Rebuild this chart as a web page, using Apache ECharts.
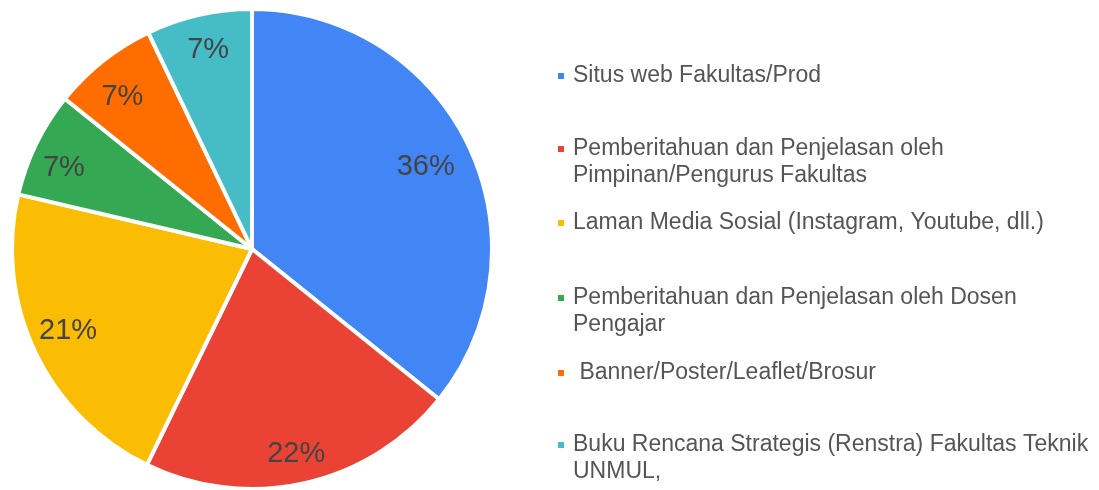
<!DOCTYPE html>
<html>
<head>
<meta charset="utf-8">
<script src="https://cdn.jsdelivr.net/npm/echarts@6/dist/echarts.min.js"></script>
<style>
  html, body { margin: 0; padding: 0; background: #fff; }
  #chart { width: 1099px; height: 490px; }
</style>
</head>
<body>
<div id="chart"></div>
<script>
const categories = [
  'Situs web Fakultas/Prod',
  'Pemberitahuan dan Penjelasan oleh\nPimpinan/Pengurus Fakultas',
  'Laman Media Sosial (Instagram, Youtube, dll.)',
  'Pemberitahuan dan Penjelasan oleh Dosen\nPengajar',
  ' Banner/Poster/Leaflet/Brosur',
  'Buku Rencana Strategis (Renstra) Fakultas Teknik\nUNMUL,'
];
// slice shares (percent)
const values = [35.7, 21.4, 21.4, 7.1, 7.1, 7.1];
// percentage labels as printed on the slices
const sliceLabels = ['36%', '22%', '21%', '7%', '7%', '7%'];
const colors = ['#4285F4', '#EA4335', '#FBBC04', '#34A853', '#FF6D01', '#46BDC6'];
const legendLineCenters = [76, 149, 223, 298, 373, 445];

const FONT = '"Liberation Sans", Arial, sans-serif';
const LINE_H = 27;
const LEGEND_FS = 23;
const cx = 252, cy = 249;

const pieData = categories.map((n, i) => ({ name: n, value: values[i], itemStyle: { color: colors[i] } }));

const legends = categories.map((n, i) => ({
  data: [n],
  left: 558,
  top: legendLineCenters[i] - LINE_H / 2,
  orient: 'vertical',
  padding: 0,
  icon: 'rect',
  itemWidth: 6,
  itemHeight: 6,
  itemStyle: { borderWidth: 0 },
  selectedMode: false,
  formatter: (name) => name.split('\n')[0],
  textStyle: { fontSize: LEGEND_FS, fontFamily: FONT, color: '#555', lineHeight: LINE_H, padding: [0, 0, 0, 4] }
}));

const graphics = [];
categories.forEach((n, i) => {
  const parts = n.split('\n');
  for (let k = 1; k < parts.length; k++) {
    graphics.push({
      type: 'text',
      x: 573,
      y: legendLineCenters[i] + k * LINE_H,
      style: { text: parts[k], fontSize: LEGEND_FS, fontFamily: FONT, fill: '#555', verticalAlign: 'middle' }
    });
  }
});

const labelOffsets = [[-13, 7], [-1, 3], [3, -7], [-2, 10], [-1, 10], [2, 3]];

const chart = echarts.init(document.getElementById('chart'), null, { renderer: 'canvas' });
chart.setOption({
  backgroundColor: '#fff',
  animation: false,
  legend: legends,
  graphic: graphics,
  series: [
    {
      type: 'pie',
      center: [cx, cy],
      radius: [0, 240],
      startAngle: 90,
      clockwise: true,
      silent: true,
      label: { show: false },
      labelLine: { show: false },
      itemStyle: { borderColor: '#fff', borderWidth: 4 },
      data: pieData
    },
    {
      type: 'pie',
      center: [cx, cy],
      radius: [166, 242],
      startAngle: 90,
      clockwise: true,
      silent: true,
      legendHoverLink: false,
      itemStyle: { color: 'rgba(0,0,0,0)', borderWidth: 0 },
      labelLine: { show: false },
      label: {
        show: true,
        position: 'inside',
        fontSize: 29,
        fontFamily: FONT,
        color: '#444'
      },
      data: categories.map((n, i) => ({
        name: n,
        value: values[i],
        label: { formatter: sliceLabels[i], offset: labelOffsets[i] }
      }))
    }
  ]
});
</script>
</body>
</html>
